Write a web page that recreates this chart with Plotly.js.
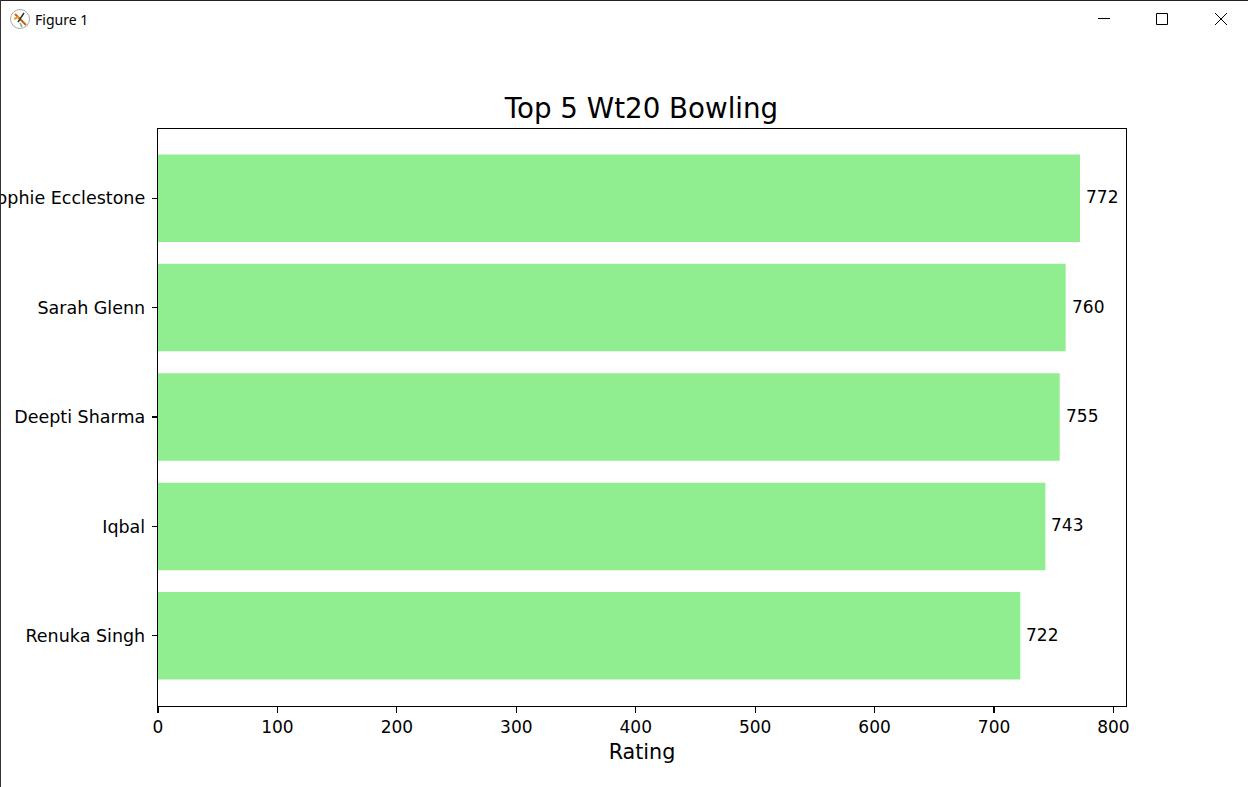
<!DOCTYPE html>
<html><head><meta charset="utf-8">
<script src="https://cdn.plot.ly/plotly-3.0.1.min.js"></script>
<style>html,body{margin:0;padding:0;background:#fff;overflow:hidden}#chart{width:1248px;height:787px}</style>
</head><body><div id="chart"></div>
<script>
var players = ["Renuka Singh", "Iqbal", "Deepti Sharma", "Sarah Glenn", "Sophie Ecclestone"];
var ratings = [722, 743, 755, 760, 772];
var xTicks = [0, 100, 200, 300, 400, 500, 600, 700, 800];
var chartTitle = "Top 5 Wt20 Bowling";
var xLabel = "Rating";
var windowTitle = "Figure 1";

var W = 1248, H = 787;
var L = 158, R = 1126, T = 129, B = 706;
function px(x){ return (x - L) / (R - L); }
function py(y){ return (B - y) / (B - T); }
function line(x0, y0, x1, y1, color, width){
  return {type:"line", xref:"paper", yref:"paper", x0:px(x0), y0:py(y0), x1:px(x1), y1:py(y1),
          line:{color:color, width:width}, layer:"above"};
}
var font = "DejaVu Sans, Verdana, sans-serif";
var shapes = [
  line(0, 0.5, W, 0.5, "#222222", 1),
  line(0.5, 0, 0.5, H, "#333333", 1),
  line(1098, 18.5, 1110, 18.5, "#000000", 1),
  {type:"rect", xref:"paper", yref:"paper", x0:px(1156.5), y0:py(13.5), x1:px(1167.5), y1:py(24.5),
   line:{color:"#000000", width:1}, fillcolor:"rgba(0,0,0,0)"},
  line(1215, 13, 1227, 25, "#000000", 1),
  line(1227, 13, 1215, 25, "#000000", 1),
  {type:"circle", xref:"paper", yref:"paper", x0:px(10.5), y0:py(9.5), x1:px(29.5), y1:py(28.5),
   line:{color:"#aaaaaa", width:1}, fillcolor:"#ffffff"},
  line(15, 14, 26, 25, "#c8601a", 2),
  line(24, 13, 18, 22, "#333333", 1.5),
  line(14, 19, 19, 17, "#e8a020", 2),
  line(20, 23, 22, 27, "#70b070", 1.5)
];
var annotations = [{
  xref:"paper", yref:"paper", x:px(32.5), y:py(19), xanchor:"left", yanchor:"middle",
  text:windowTitle, showarrow:false, font:{family:"Noto Sans, Segoe UI, sans-serif", size:14, color:"#000"}
}];
for (var i = 0; i < players.length; i++) {
  annotations.push({
    x: ratings[i], y: players[i], xref:"x", yref:"y", text:String(ratings[i]),
    showarrow:false, xanchor:"left", yanchor:"middle", xshift:4, yshift:1,
    font:{family:font, size:17, color:"#000"}
  });
}
Plotly.newPlot("chart", [{
  type:"bar", orientation:"h", y:players, x:ratings, width:0.8,
  marker:{color:"#90ee90", line:{width:0}}, hoverinfo:"skip"
}], {
  width:W, height:H, showlegend:false, paper_bgcolor:"#fff", plot_bgcolor:"#fff",
  margin:{l:L, r:W-R, t:T, b:H-B, pad:0},
  title:{text:chartTitle, font:{family:font, size:27.7, color:"#000"}, x:px(641.5), xref:"paper", xanchor:"center",
         y:1-108.5/H, yref:"container", yanchor:"middle"},
  xaxis:{range:[0, 810.5], tickmode:"array", tickvals:xTicks, ticktext:xTicks.map(String), showgrid:false, zeroline:false,
         showline:true, mirror:true, linecolor:"#000", linewidth:1.3, ticks:"outside", ticklen:5.5, tickwidth:1.1, tickcolor:"#000",
         tickfont:{family:font, size:17, color:"#000"}, fixedrange:true,
         title:{text:xLabel, font:{family:font, size:20.7, color:"#000"}, standoff:8}},
  yaxis:{type:"category", categoryorder:"array", categoryarray:players, range:[-0.6415, 4.6325], showgrid:false, zeroline:false,
         showline:true, mirror:true, linecolor:"#000", linewidth:1.3, ticks:"outside", ticklen:5, tickwidth:1.1, tickcolor:"#000",
         ticklabelstandoff:3,
         tickfont:{family:font, size:17.5, color:"#000"}, fixedrange:true, automargin:false},
  shapes:shapes, annotations:annotations
}, {displayModeBar:false, staticPlot:true});
</script></body></html>
